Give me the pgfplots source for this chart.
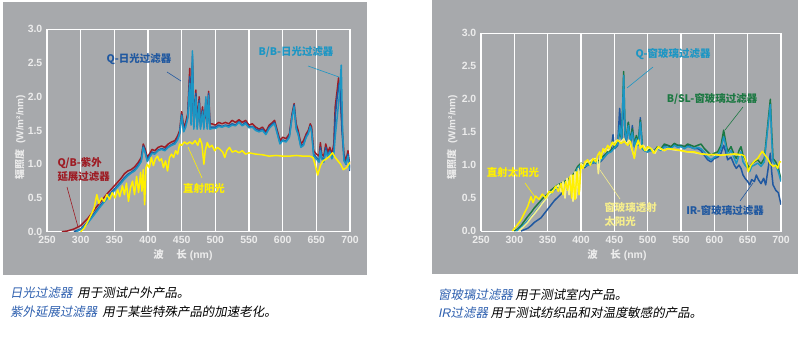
\documentclass[border=0pt]{standalone}
\usepackage{fontspec}
\setmainfont{Liberation Sans}
\newfontfamily\cjk{Noto Sans CJK SC}
\newfontfamily\cjkit[FakeSlant=0.18]{Noto Sans CJK SC}
\usepackage{pgfplots}
\pgfplotsset{compat=1.18}
\definecolor{panelgray}{RGB}{167,169,172}
\definecolor{ticklbl}{RGB}{236,236,236}
\definecolor{qbred}{RGB}{158,28,36}
\definecolor{qblue}{RGB}{32,88,160}
\definecolor{bbteal}{RGB}{28,150,196}
\definecolor{sunyel}{RGB}{255,240,0}
\definecolor{paleyel}{RGB}{246,238,140}
\definecolor{bslgreen}{RGB}{28,120,66}
\definecolor{capblue}{RGB}{45,95,175}
\pgfplotsset{panel/.style={
  scale only axis, xmin=250, xmax=700, ymin=0, ymax=3,
  xtick={250,300,...,700}, ytick={0,0.5,1,1.5,2,2.5,3},
  yticklabels={0.0,0.5,1.0,1.5,2.0,2.5,3.0},
  axis line style={white, line width=0.9pt},
  xmajorgrids, grid style={white, line width=1.1pt},
  major tick style={draw=none},
  /pgf/number format/assume math mode=true,
  tick label style={font=\bfseries\fontsize{10.5}{11}\selectfont, text=ticklbl, inner sep=1pt},
  x tick label style={yshift=-3.5bp},
  y tick label style={xshift=-3.5bp},
  every axis plot/.append style={line width=1.5pt, line join=round, no marks},
}}
\begin{document}
\begin{tikzpicture}[x=1bp,y=1bp]
\path[fill=white] (0,0) rectangle (798,338);
\fill[panelgray] (3,63) rectangle (367,336);
\fill[panelgray] (432,64) rectangle (798,338);
% ---------------- left panel ----------------
\begin{axis}[panel, at={(47bp,106.3bp)}, anchor=south west, width=303bp, height=202.4bp]
\addplot[qbred] coordinates {(272,0) (280,0.01) (290,0.04) (300,0.09) (310,0.19) (320,0.32) (330,0.45) (340,0.57) (350,0.68) (360,0.79) (365,0.86) (370,0.9) (375,0.92) (380,0.96) (385,1.02) (390,1.1) (393,1.3) (396,1.22) (399,1.1) (402,1.15) (406,1.22) (410,1.2) (415,1.25) (420,1.27) (425,1.25) (430,1.3) (435,1.33) (440,1.35) (444,1.42) (447,1.5) (450,1.78) (453,1.55) (456,1.62) (459,1.75) (462,2.42) (464,1.65) (466,2.5) (468,1.6) (471,2.1) (473,1.62) (476,2.0) (478,1.6) (481,1.85) (483,1.6) (486,1.8) (488,1.6) (490,2.08) (492,1.6) (495,1.6) (500,1.58) (505,1.62) (510,1.6) (515,1.62) (520,1.6) (525,1.65) (530,1.62) (535,1.66) (540,1.62) (545,1.65) (550,1.58) (555,1.6) (560,1.55) (565,1.52) (570,1.55) (575,1.48) (580,1.58) (585,1.62) (588,1.65) (592,1.5) (596,1.35) (600,1.4) (605,1.38) (610,1.45) (614,1.75) (617,1.9) (620,1.6) (623,1.5) (627,1.3) (631,1.35) (635,1.45) (638,1.5) (641,1.6) (643,1.55) (646,1.2) (650,1.15) (654,1.12) (656,1.32) (658,1.15) (661,1.12) (664,1.3) (667,1.18) (670,1.25) (673,1.15) (676,1.3) (678,1.85) (681,2.1) (683,2.28) (686,1.9) (688,1.6) (691,1.15) (694,1.05) (697,1.2) (700,0.95)};
\addplot[qblue] coordinates {(290,0) (300,0.04) (310,0.14) (320,0.27) (330,0.4) (340,0.52) (350,0.63) (360,0.74) (365,0.8) (370,0.85) (375,0.88) (380,0.92) (385,0.98) (390,1.06) (393,1.27) (396,1.18) (399,1.06) (402,1.12) (406,1.18) (410,1.16) (415,1.21) (420,1.23) (425,1.22) (430,1.26) (435,1.29) (440,1.32) (444,1.38) (447,1.46) (450,1.74) (453,1.5) (456,1.58) (459,1.7) (462,2.3) (464,1.6) (466,2.6) (468,1.55) (471,2.05) (473,1.55) (476,1.95) (478,1.55) (481,1.8) (483,1.55) (486,1.95) (488,1.55) (490,2.05) (492,1.55) (495,1.55) (500,1.55) (505,1.58) (510,1.56) (515,1.58) (520,1.57) (525,1.6) (530,1.58) (535,1.63) (540,1.58) (545,1.62) (550,1.55) (555,1.56) (560,1.52) (565,1.5) (570,1.52) (575,1.45) (580,1.55) (585,1.6) (588,1.62) (592,1.47) (596,1.32) (600,1.36) (605,1.34) (610,1.42) (614,1.72) (617,1.88) (620,1.55) (623,1.46) (627,1.27) (631,1.3) (635,1.42) (638,1.47) (641,1.57) (643,1.5) (646,1.15) (650,1.1) (654,1.05) (656,1.25) (658,1.1) (661,1.05) (664,1.25) (667,1.12) (670,1.2) (673,1.1) (676,1.22) (678,1.7) (681,2.0) (684,2.2) (686,2.0) (688,1.5) (691,1.1) (694,1.0) (697,1.15) (700,0.9)};
\addplot[bbteal] coordinates {(293,0) (300,0.03) (310,0.12) (320,0.25) (330,0.38) (340,0.5) (350,0.61) (360,0.72) (365,0.78) (370,0.83) (375,0.87) (380,0.9) (385,0.96) (390,1.04) (393,1.25) (396,1.16) (399,1.04) (402,1.1) (406,1.16) (410,1.15) (415,1.2) (420,1.22) (425,1.2) (430,1.25) (435,1.28) (440,1.3) (444,1.36) (447,1.45) (450,1.72) (453,1.48) (456,1.55) (459,1.68) (462,2.2) (464,1.58) (466,2.68) (468,1.52) (471,2.0) (473,1.52) (476,1.9) (478,1.52) (481,1.78) (483,1.52) (486,2.0) (488,1.52) (490,2.02) (492,1.52) (495,1.53) (500,1.53) (505,1.56) (510,1.55) (515,1.57) (520,1.55) (525,1.58) (530,1.57) (535,1.62) (540,1.57) (545,1.6) (550,1.54) (555,1.55) (560,1.5) (565,1.48) (570,1.5) (575,1.44) (580,1.53) (585,1.58) (588,1.6) (592,1.45) (596,1.3) (600,1.35) (605,1.33) (610,1.4) (614,1.7) (617,1.85) (620,1.52) (623,1.44) (627,1.25) (631,1.28) (635,1.4) (638,1.45) (641,1.56) (643,1.48) (646,1.12) (650,1.08) (654,1.03) (656,1.2) (658,1.08) (661,1.03) (664,1.2) (667,1.1) (670,1.18) (673,1.08) (676,1.15) (678,1.4) (681,1.7) (684,2.0) (687,2.47) (689,1.5) (691,1.05) (694,1.0) (697,1.12) (700,0.92)};
\addplot[sunyel] coordinates {(300,0) (305,0.05) (310,0.14) (315,0.24) (320,0.35) (324,0.55) (327,0.42) (331,0.5) (335,0.45) (339,0.55) (343,0.48) (347,0.58) (351,0.5) (355,0.62) (358,0.52) (362,0.68) (365,0.55) (368,0.72) (371,0.45) (374,0.65) (377,0.75) (380,0.55) (383,0.82) (386,0.58) (389,0.88) (391,0.6) (393,0.92) (395,0.4) (397,0.95) (399,1.0) (402,0.95) (405,1.1) (408,0.98) (411,1.08) (414,1.12) (417,1.05) (420,1.08) (423,0.95) (426,1.05) (429,0.9) (432,1.1) (435,1.15) (438,1.1) (441,1.2) (444,1.15) (447,1.3) (450,1.28) (454,1.33) (458,1.3) (462,1.33) (466,1.3) (470,1.35) (474,1.28) (477,1.38) (480,1.3) (483,1.0) (485,1.2) (488,1.32) (491,1.25) (495,1.28) (499,1.2) (503,1.25) (507,1.22) (511,1.18) (514,1.1) (517,1.2) (521,1.25) (525,1.18) (530,1.2) (535,1.17) (540,1.2) (545,1.15) (550,1.17) (560,1.15) (570,1.14) (580,1.12) (590,1.13) (600,1.12) (610,1.12) (620,1.13) (630,1.12) (640,1.12) (645,1.1) (648,1.0) (652,0.84) (656,0.98) (660,1.05) (665,1.08) (670,1.12) (674,1.17) (678,1.1) (682,1.05) (686,1.0) (690,0.92) (695,0.95) (700,1.03)};
\end{axis}
% ---------------- right panel ----------------
\begin{axis}[panel, at={(481bp,107bp)}, anchor=south west, width=300bp, height=197.7bp]
\addplot[qblue] coordinates {(310,0) (320,0.04) (325,0.08) (330,0.13) (340,0.2) (350,0.33) (360,0.46) (370,0.56) (380,0.66) (390,0.8) (395,0.9) (400,0.98) (405,0.96) (410,1.0) (415,1.02) (420,1.04) (425,1.02) (430,1.06) (435,1.12) (440,1.18) (445,1.22) (448,1.46) (450,1.25) (455,1.3) (458,1.86) (461,1.4) (464,2.1) (466,1.45) (468,1.35) (471,1.65) (474,1.3) (477,1.6) (480,1.28) (483,1.4) (486,1.3) (489,1.72) (492,1.25) (495,1.22) (500,1.2) (505,1.25) (510,1.22) (515,1.28) (520,1.25) (525,1.3) (530,1.3) (535,1.27) (540,1.32) (545,1.3) (550,1.3) (555,1.28) (560,1.3) (565,1.27) (570,1.25) (575,1.25) (580,1.22) (585,1.15) (590,1.08) (595,1.05) (600,1.1) (605,1.12) (610,1.18) (614,1.3) (617,1.2) (620,1.08) (625,1.12) (630,1.0) (633,0.95) (637,1.0) (640,0.95) (643,0.85) (646,0.8) (650,0.75) (653,0.7) (656,0.78) (660,0.75) (663,0.85) (666,0.78) (670,0.72) (674,0.8) (677,0.7) (680,0.9) (684,1.18) (686,0.9) (688,0.7) (692,0.62) (696,0.58) (700,0.4)};
\addplot[bslgreen] coordinates {(300,0) (305,0.03) (310,0.08) (315,0.15) (320,0.22) (325,0.28) (330,0.35) (337,0.43) (343,0.5) (350,0.56) (355,0.62) (360,0.66) (365,0.7) (370,0.72) (375,0.75) (380,0.78) (385,0.82) (390,0.88) (395,0.98) (400,1.03) (405,1.0) (410,1.03) (415,1.05) (420,1.08) (425,1.05) (430,1.1) (435,1.15) (440,1.2) (445,1.22) (450,1.28) (455,1.35) (458,1.5) (461,1.4) (464,2.42) (466,1.5) (468,1.4) (471,1.65) (474,1.35) (477,1.55) (480,1.3) (483,1.45) (486,1.35) (489,1.68) (492,1.28) (495,1.25) (500,1.22) (505,1.25) (510,1.2) (515,1.28) (520,1.25) (525,1.32) (530,1.3) (535,1.28) (540,1.33) (545,1.3) (550,1.3) (555,1.28) (560,1.32) (565,1.3) (570,1.28) (575,1.3) (580,1.32) (585,1.25) (590,1.2) (595,1.15) (600,1.18) (605,1.2) (610,1.3) (614,1.53) (617,1.35) (620,1.2) (625,1.28) (630,1.15) (633,1.1) (637,1.22) (640,1.28) (643,1.15) (646,1.1) (650,1.0) (653,0.95) (656,1.02) (660,1.05) (665,1.08) (670,1.02) (675,1.1) (680,1.6) (684,2.0) (686,1.5) (688,1.1) (692,1.05) (696,0.95) (700,0.78)};
\addplot[bbteal] coordinates {(303,0) (310,0.05) (320,0.15) (330,0.27) (340,0.4) (350,0.52) (360,0.62) (370,0.7) (380,0.76) (390,0.84) (395,0.95) (400,1.0) (405,0.98) (410,1.0) (415,1.02) (420,1.05) (425,1.02) (430,1.08) (435,1.12) (440,1.18) (445,1.2) (450,1.26) (455,1.32) (458,1.6) (461,1.4) (464,2.36) (466,1.5) (468,1.38) (471,1.6) (474,1.35) (477,1.5) (480,1.28) (483,1.4) (486,1.3) (489,1.65) (492,1.25) (495,1.22) (500,1.2) (505,1.22) (510,1.2) (515,1.25) (520,1.22) (525,1.28) (530,1.27) (535,1.25) (540,1.3) (545,1.27) (550,1.28) (555,1.25) (560,1.28) (565,1.27) (570,1.25) (575,1.27) (580,1.25) (585,1.2) (590,1.12) (595,1.08) (600,1.12) (605,1.15) (610,1.25) (614,1.43) (617,1.3) (620,1.15) (625,1.22) (630,1.1) (633,1.02) (637,1.15) (640,1.2) (643,1.05) (646,1.0) (650,0.95) (653,0.9) (656,0.98) (660,1.0) (665,1.03) (670,0.98) (675,1.05) (680,1.55) (684,1.92) (686,1.4) (688,1.05) (692,1.0) (696,0.9) (700,0.75)};
\addplot[paleyel] coordinates {(307,0) (315,0.08) (320,0.13) (325,0.2) (330,0.26) (337,0.35) (342,0.42) (347,0.48) (352,0.55) (357,0.6) (362,0.66) (366,0.7) (370,0.6) (373,0.75) (376,0.5) (379,0.8) (382,0.55) (385,0.85) (388,0.45) (391,0.9) (393,0.5) (396,0.95) (398,0.6) (400,1.03) (404,0.98) (408,1.05) (412,1.05) (416,1.08) (420,1.1) (424,1.1) (426,0.87) (429,1.15) (433,1.2) (437,1.25) (441,1.22) (445,1.3) (450,1.35) (455,1.38) (460,1.35) (464,1.4) (468,1.32) (472,1.38) (476,1.25) (480,1.12) (483,1.3) (486,1.35) (490,1.28) (494,1.3) (498,1.22) (502,1.27) (507,1.24) (511,1.18) (515,1.26) (520,1.24) (525,1.22) (530,1.25) (540,1.23) (550,1.22) (560,1.2) (570,1.19) (580,1.17) (590,1.16) (600,1.16) (610,1.15) (620,1.16) (630,1.16) (640,1.15)};
\addplot[sunyel] coordinates {(297,0) (305,0.1) (310,0.17) (315,0.27) (320,0.37) (325,0.52) (328,0.43) (332,0.53) (337,0.48) (342,0.56) (347,0.5) (352,0.6) (357,0.58) (362,0.68) (366,0.6) (370,0.72) (373,0.55) (377,0.75) (380,0.62) (383,0.82) (386,0.5) (388,0.85) (391,0.48) (394,0.9) (397,0.55) (400,1.0) (403,0.95) (406,1.05) (410,1.08) (414,1.0) (418,1.1) (422,1.05) (425,1.15) (428,1.2) (430,1.1) (433,1.25) (436,1.2) (440,1.3) (443,1.25) (447,1.35) (450,1.3) (455,1.38) (460,1.33) (465,1.36) (470,1.3) (474,1.36) (477,1.22) (480,1.1) (483,1.3) (486,1.38) (489,1.25) (492,1.3) (496,1.22) (500,1.28) (505,1.25) (509,1.18) (512,1.22) (516,1.28) (520,1.25) (525,1.22) (530,1.25) (540,1.24) (550,1.22) (560,1.2) (570,1.2) (580,1.17) (590,1.16) (600,1.16) (610,1.15) (620,1.16) (630,1.17) (640,1.16) (645,1.14) (648,1.05) (651,0.9) (655,1.0) (660,1.06) (665,1.1) (668,1.15) (672,1.21) (676,1.15) (680,1.1) (684,1.02) (688,0.98) (692,1.0) (695,0.95) (698,1.05) (700,1.05)};
\end{axis}
% axis labels
\node[rotate=90, text=ticklbl, font=\bfseries\fontsize{10}{11}\selectfont] at (20,201) {{\cjk 辐照度}\ \ (W/m²/nm)};
\node[rotate=90, text=ticklbl, font=\bfseries\fontsize{10}{11}\selectfont] at (452,201) {{\cjk 辐照度}\ \ (W/m²/nm)};
\node[text=ticklbl, font=\bfseries\fontsize{10.5}{12}\selectfont] at (183,83) {{\cjk 波}\hspace{1.2em}{\cjk 长} (nm)};
\node[text=ticklbl, font=\bfseries\fontsize{10.5}{12}\selectfont] at (617,83) {{\cjk 波}\hspace{1.2em}{\cjk 长} (nm)};
% left annotations
\begin{scope}[font=\cjk\bfseries\fontsize{10.5}{12}\selectfont]
\node[text=qblue] at (139,279) {Q-日光过滤器};
\draw[qblue, line width=0.6pt] (167,266) -- (181,257);
\node[text=bbteal] at (296,286) {B/B-日光过滤器};
\draw[bbteal, line width=0.6pt] (308,272) -- (339,261);
\node[text=qbred, anchor=west] at (54,175) {Q/B-紫外};
\node[text=qbred, anchor=west] at (54,161) {延展过滤器};
\draw[qbred, line width=0.6pt] (67,151) -- (78,111);
\node[text=sunyel] at (204,149) {直射阳光};
\draw[sunyel, line width=0.6pt] (188,191) -- (202,160);
% right annotations
\node[text=bbteal] at (673,284) {Q-窗玻璃过滤器};
\draw[bbteal, line width=0.6pt] (653,271) -- (627,250);
\node[text=bslgreen] at (712,239) {B/SL-窗玻璃过滤器};
\draw[bslgreen, line width=0.6pt] (743,231) -- (725,208);
\node[text=qblue] at (725,127) {IR-窗玻璃过滤器};
\draw[qblue, line width=0.6pt] (740,137) -- (753,155);
\node[text=sunyel] at (513,165) {直射太阳光};
\draw[sunyel, line width=0.6pt] (525,155) -- (535,141);
\node[text=paleyel, anchor=west] at (601,130) {窗玻璃透射};
\node[text=paleyel, anchor=west] at (601,116) {太阳光};
\draw[paleyel, line width=0.6pt] (620,139) -- (600,168);
\end{scope}
% captions
\begin{scope}[font=\cjkit\fontsize{12.5}{14}\selectfont]
\node[anchor=west, inner sep=0pt] at (10,45) {\textcolor{capblue}{日光过滤器}\hspace{0.4em}用于测试户外产品。};
\node[anchor=west, inner sep=0pt] at (10,26) {\textcolor{capblue}{紫外延展过滤器}\hspace{0.4em}用于某些特殊产品的加速老化。};
\node[anchor=west, inner sep=0pt] at (438,43) {\textcolor{capblue}{窗玻璃过滤器}\hspace{0.2em}用于测试室内产品。};
\node[anchor=west, inner sep=0pt] at (438,25) {\textcolor{capblue}{\fontspec{Liberation Sans}[FakeSlant=0.2]IR}\textcolor{capblue}{过滤器}\hspace{0.2em}用于测试纺织品和对温度敏感的产品。};
\end{scope}
\end{tikzpicture}
\end{document}
